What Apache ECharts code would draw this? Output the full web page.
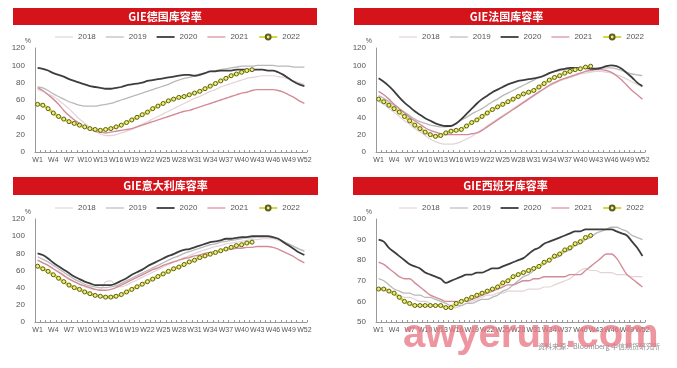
<!DOCTYPE html>
<html><head><meta charset="utf-8">
<script src="https://cdn.jsdelivr.net/npm/echarts@6/dist/echarts.min.js"></script>
<style>html,body{margin:0;padding:0;background:#fff}#c{width:677px;height:368px}</style>
</head><body><div id="c"></div>
<script>
const weeks = [];
for (let i = 1; i <= 52; i++) weeks.push('W' + i);
const years = ['2018', '2019', '2020', '2021', '2022'];
const titles = ['GIE德国库容率', 'GIE法国库容率', 'GIE意大利库容率', 'GIE西班牙库容率'];

// Germany
const de2018 = [72,70,67,64,60,55,50,44,38,33,28,24,21,19,19,20,22,24,26,29,32,35,38,41,44,47,50,53,56,59,62,64,67,70,72,75,77,79,81,83,85,86,87,88,88,88,87,86,84,82,80,78];
const de2019 = [75,74,71,67,64,61,58,56,54,53,53,53,54,55,56,58,60,62,64,66,68,70,72,74,76,78,81,83,85,86,88,90,91,93,94,95,96,97,98,99,99,99,100,100,100,100,99,99,99,98,98,98];
const de2020 = [97,96,94,91,89,87,84,82,80,78,76,75,74,73,73,74,75,77,78,79,80,82,83,84,85,86,87,88,89,89,88,89,91,93,93,94,94,94,95,95,95,95,95,95,94,94,92,89,85,81,78,76];
const de2021 = [74,71,66,61,55,48,42,37,33,29,26,24,23,22,23,24,25,26,27,29,31,33,35,37,39,41,43,45,47,48,50,52,54,56,58,60,62,64,66,68,69,71,72,72,72,72,71,69,66,63,59,56];
const de2022 = [55,54,50,45,41,38,35,33,31,29,27,26,25,26,27,29,31,34,37,40,43,46,50,53,56,59,61,63,64,66,68,70,73,76,79,82,85,88,90,92,94,95];

// France
const fr2018 = [58,55,50,46,41,36,32,27,23,19,15,12,10,9,9,10,12,15,18,22,26,30,34,38,42,46,50,54,58,62,66,70,73,76,79,82,84,86,88,90,91,92,93,93,92,91,89,87,84,81,78,75];
const fr2019 = [65,62,58,54,50,46,42,38,35,33,31,30,29,29,30,33,37,40,44,47,50,54,58,61,65,68,71,74,77,80,83,86,89,91,93,94,95,96,96,97,97,97,97,97,97,97,96,94,92,90,89,88];
const fr2020 = [85,81,76,70,63,57,52,47,43,39,36,33,31,30,30,33,38,44,50,56,61,65,69,72,75,78,80,82,83,84,85,86,88,91,93,95,96,97,97,97,97,96,96,97,99,100,99,96,91,86,80,76];
const fr2021 = [70,66,61,55,50,45,40,36,32,28,25,23,21,20,20,20,20,20,21,22,25,29,33,37,41,45,49,53,57,61,65,69,73,77,80,83,85,87,89,91,93,94,95,95,94,92,88,83,77,71,66,61];
const fr2022 = [61,58,54,50,46,41,36,31,27,23,20,18,19,22,24,25,26,30,34,37,41,45,49,52,55,58,61,64,67,69,71,75,79,83,86,88,91,93,95,96,98,99];

// Italy
const it2018 = [72,69,66,62,59,55,51,47,44,41,39,38,38,47,48,42,41,43,46,49,52,55,58,61,64,67,70,72,75,77,80,82,84,86,88,89,91,92,93,94,95,96,96,97,97,97,95,93,90,88,85,82];
const it2019 = [76,73,70,66,62,58,54,50,47,44,42,41,40,40,41,42,45,48,51,54,57,60,63,66,69,72,75,77,80,82,84,86,88,90,91,93,94,95,96,97,98,98,99,99,99,98,97,94,91,88,85,83];
const it2020 = [80,78,74,69,65,61,57,53,50,47,45,43,43,43,43,45,48,51,55,58,61,65,68,71,74,77,79,82,84,85,87,89,91,93,94,95,97,97,98,99,99,100,100,100,100,99,97,93,89,85,81,78];
const it2021 = [72,69,66,62,58,54,50,47,44,42,40,38,37,37,38,40,43,46,49,52,55,58,61,63,66,68,70,72,74,75,77,78,80,81,82,83,84,85,86,86,87,87,88,88,88,87,85,82,79,76,72,69];
const it2022 = [65,62,59,55,51,47,43,40,38,35,33,31,30,29,29,30,32,35,38,41,44,47,50,53,56,59,62,64,67,70,72,75,77,79,81,83,85,87,89,90,92,93];

// Spain
const es2018 = [67,66,65,64,63,62,62,61,60,60,59,58,58,57,57,57,58,59,60,61,62,63,63,64,64,65,65,65,65,66,66,66,67,67,68,69,70,71,73,75,76,75,75,74,74,74,73,73,73,72,72,72];
const es2019 = [71,70,68,66,65,64,64,63,63,62,62,61,60,59,58,58,58,59,59,60,61,61,62,63,65,66,68,70,72,73,75,77,78,80,81,82,84,85,87,88,90,91,93,94,95,96,96,95,94,92,91,90];
const es2020 = [90,89,86,84,82,80,78,77,76,74,73,72,71,69,70,71,72,73,73,74,74,75,76,76,77,78,79,80,81,83,85,86,88,89,90,91,92,93,94,94,95,95,95,95,95,95,94,93,92,89,86,82];
const es2021 = [79,78,76,74,72,71,71,69,67,65,63,62,61,60,60,60,60,60,61,62,63,64,65,66,67,68,68,69,70,70,71,71,72,72,72,72,72,73,73,73,75,77,79,81,83,83,81,77,73,71,69,67];
const es2022 = [66,66,65,64,62,60,59,58,58,58,58,58,58,57,57,59,60,61,62,63,64,65,66,67,69,70,72,73,74,75,76,77,79,80,82,83,85,86,88,89,91,92];

const yTicks = [{min:0,max:120,interval:20},{min:0,max:120,interval:20},{min:0,max:120,interval:20},{min:50,max:100,interval:10}];
const panelData = [
  [de2018, de2019, de2020, de2021, de2022],
  [fr2018, fr2019, fr2020, fr2021, fr2022],
  [it2018, it2019, it2020, it2021, it2022],
  [es2018, es2019, es2020, es2021, es2022]
];

const grids = [
  {left:35, right:370, top:48, bottom:216},
  {left:376, right:32, top:48, bottom:216},
  {left:35, right:370, top:219, bottom:46},
  {left:376, right:32, top:219, bottom:46}
];
const bars = [
  {x:13, y:8, w:304, h:17},
  {x:354, y:8, w:305, h:17},
  {x:13, y:177, w:305, h:18},
  {x:353, y:177, w:305, h:18}
];
const legendPos = [{left:55, top:33},{left:399, top:33},{left:55, top:204},{left:399, top:204}];

const styles = [
  {color:'#e3d3d6', width:1.2},
  {color:'#b9b9b9', width:1.3},
  {color:'#3d3d3d', width:1.8},
  {color:'#d38b98', width:1.4},
  {color:'#d2da3c', width:3}
];

const series = [];
for (let p = 0; p < 4; p++) {
  years.forEach((yr, k) => {
    const s = {
      name: yr, type: 'line', xAxisIndex: p, yAxisIndex: p,
      data: panelData[p][k],
      lineStyle: {color: styles[k].color, width: styles[k].width},
      itemStyle: {color: styles[k].color},
      symbol: 'none', smooth: 0.3, z: k === 4 ? 5 : (k === 2 ? 4 : 3)
    };
    if (k === 4) {
      s.symbol = 'circle'; s.symbolSize = 4; s.showSymbol = true; s.showAllSymbol = true; s.smooth = 0.2;
      s.itemStyle = {color: '#eef07a', borderColor: '#5d5d22', borderWidth: 1};
    }
    series.push(s);
  });
}

const thin = 'path://M0,0 H20 V1.3 H0 Z';
const thick = 'path://M0,0 H20 V2 H0 Z';
const legendData = [
  {name:'2018', icon: thin},
  {name:'2019', icon: thin},
  {name:'2020', icon: thick},
  {name:'2021', icon: thin},
  {name:'2022'}
];

const graphic = [];
bars.forEach((b, i) => {
  graphic.push({type:'rect', shape:{x:b.x, y:b.y, width:b.w, height:b.h}, style:{fill:'#d5131b'}, z:1});
  graphic.push({type:'text', x:b.x + b.w/2, y:b.y + b.h/2, z:2,
    style:{text:titles[i], fill:'#fff', font:'bold 11px "Noto Sans CJK SC"', textAlign:'center', textVerticalAlign:'middle', align:'center', verticalAlign:'middle'}});
});
graphic.push({type:'text', x:660, y:346, z:2,
  style:{text:'资料来源：Bloomberg 中信期货研究所', fill:'#8a8a8a', font:'7px "Noto Sans CJK SC"', textAlign:'right', textVerticalAlign:'middle', align:'right', verticalAlign:'middle'}});
graphic.push({type:'text', x:403, y:336, z:10,
  style:{text:'awyerun.com', fill:'rgba(232,120,132,0.78)', font:'bold 40px "Liberation Sans"', textAlign:'left', textVerticalAlign:'middle', align:'left', verticalAlign:'middle'}});

const option = {
  backgroundColor: '#fff',
  animation: false,
  grid: grids,
  legend: legendPos.map(lp => ({
    left: lp.left, top: lp.top, data: legendData, itemWidth: 18, itemHeight: 6, itemGap: 10,
    textStyle: {fontSize: 8, color: '#555', fontFamily: 'Liberation Sans'}, padding: 0
  })),
  xAxis: grids.map((g, i) => ({
    type: 'category', gridIndex: i, data: weeks, boundaryGap: true,
    axisLine: {lineStyle: {color: '#999', width: 1}},
    axisTick: {show: true, interval: 0, inside: true, length: 2, lineStyle: {color: '#999'}},
    axisLabel: {interval: 2, fontSize: 7, color: '#555', margin: 5, fontFamily: 'Liberation Sans'},
    splitLine: {show: false}
  })),
  yAxis: grids.map((g, i) => ({
    type: 'value', gridIndex: i, min: yTicks[i].min, max: yTicks[i].max, interval: yTicks[i].interval,
    name: '%', nameGap: 2, nameTextStyle: {fontSize: 7, color: '#555', align: 'right', padding: [0, 4, -4, 0]},
    axisLine: {show: true, lineStyle: {color: '#999', width: 1}},
    axisTick: {show: false},
    axisLabel: {fontSize: 8, color: '#555', margin: 10, fontFamily: 'Liberation Sans'},
    splitLine: {show: false}
  })),
  graphic: graphic,
  series: series
};
const chart = echarts.init(document.getElementById('c'), null, {renderer: 'canvas'});
chart.setOption(option);
</script></body></html>
